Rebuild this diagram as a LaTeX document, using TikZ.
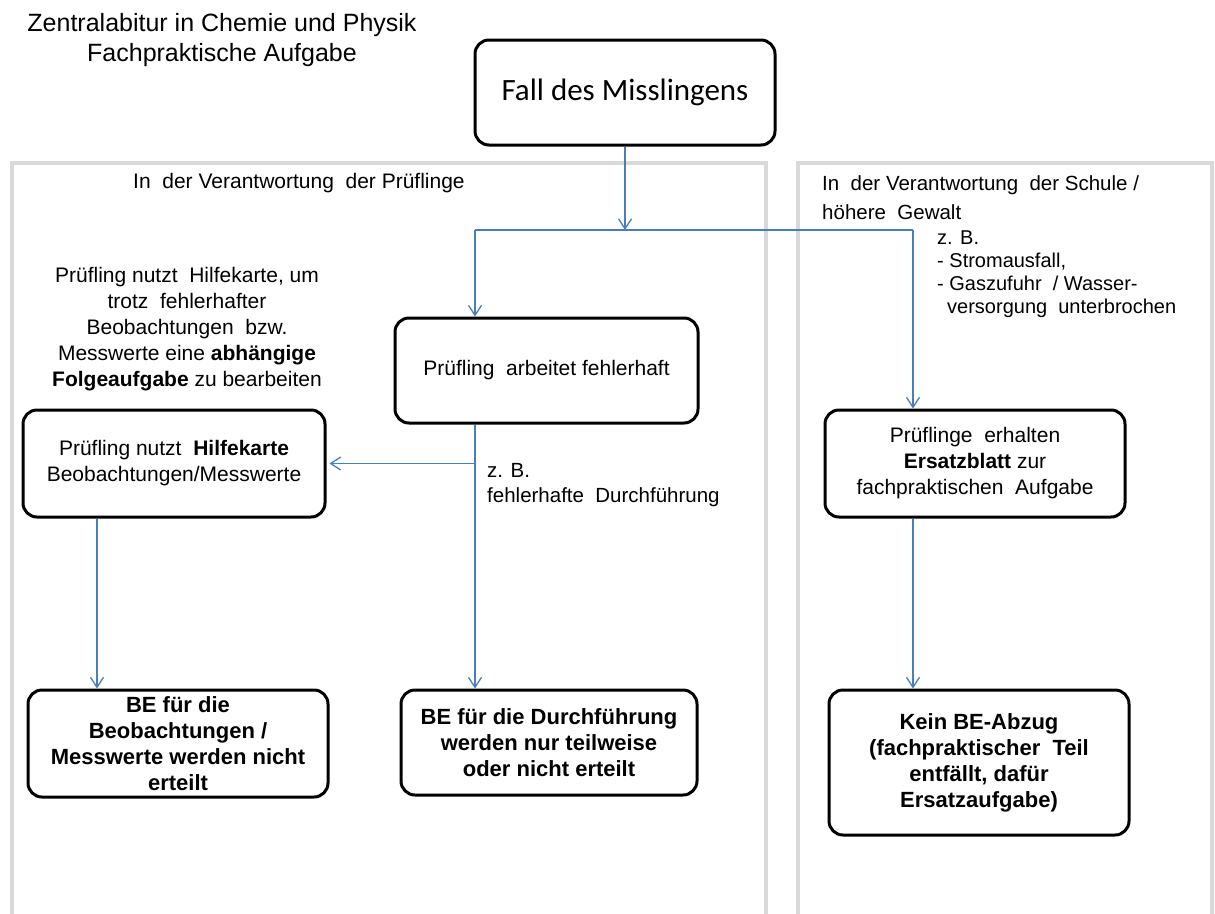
\documentclass[tikz,border=0pt]{standalone}
\usepackage{fontspec}
\setmainfont{Liberation Sans}
\newfontfamily\calibri{Carlito}
\usetikzlibrary{arrows.meta}
\definecolor{connblue}{RGB}{74,126,187}
\definecolor{panegray}{RGB}{217,217,217}
\begin{document}
\begin{tikzpicture}[x=1pt,y=-1pt,
  box/.style={draw=black, line width=3pt, rounded corners=14pt, fill=white, align=center, inner sep=0pt},
  conn/.style={draw=connblue, line width=1.3pt},
  arr/.style={conn, -{Straight Barb[length=10pt,width=13pt]}},
  pane/.style={draw=panegray, line width=4pt},
  body/.style={font=\fontsize{21}{26}\selectfont},
  note/.style={font=\fontsize{20}{23}\selectfont},
  bbody/.style={font=\fontsize{22}{26}\selectfont\bfseries},
]
\useasboundingbox (0,0) rectangle (1215,913);
\fill[white] (0,0) rectangle (1215,913);

% panes
\draw[pane] (12,920) -- (12,163) -- (766,163) -- (766,920);
\draw[pane] (798,920) -- (798,163) -- (1212,163) -- (1212,920);

% title
\node[align=center, font=\fontsize{25}{30}\selectfont] (title) at (222,40)
  {Zentralabitur in Chemie und Physik\\Fachpraktische Aufgabe};

% headers
\node[anchor=west, body, inner sep=0pt] (hdrL) at (133,183) {In\ \ der Verantwortung\ \ der Prüflinge};
\node[anchor=west, align=left, inner sep=0pt, font=\fontsize{20.5}{29}\selectfont] (hdrR) at (822,198)
  {In\ \ der Verantwortung\ \ der Schule /\\höhere\ \ Gewalt};

% boxes
\node[box, minimum width=300pt, minimum height=105pt, font=\calibri\fontsize{31}{36}\selectfont] (fall) at (625,92.5) {Fall des Misslingens};
\node[box, body, minimum width=303pt, minimum height=105pt] (arbeitet) at (546.5,370.5) {Prüfling\ \ arbeitet fehlerhaft};
\node[box, body, minimum width=302pt, minimum height=107pt] (hilfe) at (174,463.5)
  {Prüfling nutzt\ \ \textbf{Hilfekarte}\\Beobachtungen/Messwerte};
\node[box, bbody, minimum width=300pt, minimum height=107pt] (beBeob) at (178,743.5)
  {BE für die\\Beobachtungen /\\Messwerte werden nicht\\erteilt};
\node[box, bbody, minimum width=296pt, minimum height=105pt] (beDurch) at (549,742.5)
  {BE für die Durchführung\\werden nur teilweise\\oder nicht erteilt};
\node[box, body, minimum width=300pt, minimum height=107pt] (ersatz) at (975,463.5)
  {Prüflinge\ \ erhalten\\\textbf{Ersatzblatt} zur\\fachpraktischen\ \ Aufgabe};
\node[box, bbody, minimum width=300pt, minimum height=145pt] (kein) at (979,762.5)
  {Kein BE-Abzug\\(fachpraktischer\ \ Teil\\entfällt, dafür\\Ersatzaufgabe)};

% notes
\node[align=center, body, inner sep=0pt] (noteL) at (187,329)
  {Prüfling nutzt\ \ Hilfekarte, um\\trotz\ \ fehlerhafter\\Beobachtungen\ \ bzw.\\Messwerte eine \textbf{abhängige}\\\textbf{Folgeaufgabe} zu bearbeiten};
\node[anchor=west, align=left, inner sep=0pt, font=\fontsize{20.5}{25}\selectfont] (noteM) at (487,485.5)
  {z. B.\\fehlerhafte\ \ Durchführung};
\node[anchor=west, align=left, inner sep=0pt, note] (noteR) at (937,274)
  {z. B.\\- Stromausfall,\\- Gaszufuhr\ \ / Wasser-\\\hspace*{10pt}versorgung\ \ unterbrochen};

% connectors
\coordinate (j) at (fall.south |- 0,230);
\coordinate (jl) at (475,230);
\coordinate (jr) at (913,230);
\coordinate (xL) at (97,0);
\draw[arr] (fall.south) -- (j);
\draw[conn] (jl) -- (jr);
\draw[arr] (jl) -- (jl |- arbeitet.north);
\draw[arr] (jr) -- (jr |- ersatz.north);
\draw[arr] (arbeitet.south -| jl) -- (beDurch.north -| jl);
\coordinate (k) at (jl |- hilfe.east);
\draw[arr, shorten >=3pt] (k) -- (hilfe.east);
\draw[arr] (hilfe.south -| xL) -- (beBeob.north -| xL);
\draw[arr] (ersatz.south -| jr) -- (kein.north -| jr);
\end{tikzpicture}
\end{document}
